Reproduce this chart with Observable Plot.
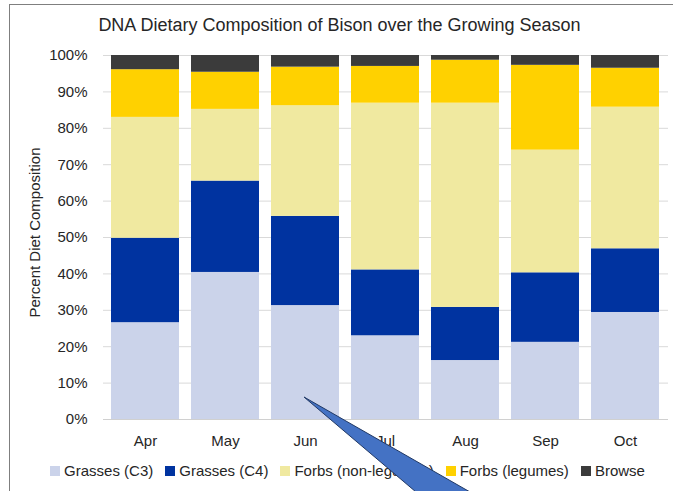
<!DOCTYPE html>
<html><head><meta charset="utf-8">
<script src="https://cdn.jsdelivr.net/npm/d3@7"></script>
<script src="https://cdn.jsdelivr.net/npm/@observablehq/plot@0.6"></script>
<style>
body{margin:0;background:#fff;font-family:"Liberation Sans",Arial,sans-serif;}
#wrap{position:relative;width:673px;height:491px;overflow:hidden;background:#fff;}
#frame{position:absolute;left:9px;top:4px;width:700px;height:600px;border-left:1.5px solid #7f7f7f;border-top:1.5px solid #7f7f7f;box-sizing:border-box;}
#title{position:absolute;left:3px;width:673px;top:15px;text-align:center;font-size:18px;color:#262626;white-space:nowrap;}
#chart{position:absolute;left:0;top:0;}
#legend{position:absolute;left:11px;width:673px;top:462px;display:flex;justify-content:center;gap:12px;font-size:15px;color:#262626;white-space:nowrap;}
#legend .item{display:flex;align-items:center;gap:4px;}
#legend .sw{width:10px;height:10px;display:inline-block;}
#arrow{position:absolute;left:0;top:0;}
</style></head>
<body><div id="wrap">
<div id="frame"></div>
<div id="title">DNA Dietary Composition of Bison over the Growing Season</div>
<div id="chart"></div>
<div id="legend"></div>
<svg id="arrow" width="673" height="491"><polygon points="304,397 449,520 519,520" fill="#4472C4" stroke="#203864" stroke-width="1"/></svg>
</div>
<script>
const months = ["Apr","May","Jun","Jul","Aug","Sep","Oct"];
const series = ["Grasses (C3)","Grasses (C4)","Forbs (non-legumes)","Forbs (legumes)","Browse"];
const colors = ["#CBD3EA","#0033A0","#F0E9A0","#FFD100","#3B3B3B"];
const grassesC3 = [26.6,40.4,31.3,23.0,16.2,21.2,29.4];
const grassesC4 = [23.2,25.1,24.5,18.1,14.6,19.1,17.5];
const forbsNonLegumes = [33.2,19.7,30.4,45.8,56.1,33.7,38.9];
const forbsLegumes = [13.1,10.2,10.6,10.1,11.8,23.3,10.7];
const browse = [3.9,4.6,3.2,3.0,1.3,2.7,3.5];
const yTicks = [0,10,20,30,40,50,60,70,80,90,100];

const values = [grassesC3, grassesC4, forbsNonLegumes, forbsLegumes, browse];
const data = series.flatMap((s,i)=>months.map((m,j)=>({month:m, series:s, value:values[i][j]})));

const chart = Plot.plot({
  width:673, height:455,
  marginTop:55, marginBottom:36, marginLeft:103, marginRight:5,
  style:{fontFamily:"'Liberation Sans',Arial,sans-serif", fontSize:"15px", color:"#262626", background:"transparent"},
  x:{domain:months, paddingInner:0.145, paddingOuter:0.075, label:null},
  y:{domain:[0,100], label:null},
  color:{domain:series, range:colors},
  marks:[
    Plot.gridY(yTicks,{stroke:"#d9d9d9", strokeOpacity:1}),
    Plot.barY(data,{x:"month", y:"value", fill:"series"}),
    Plot.ruleY([0],{stroke:"#d0d0d0"}),
    Plot.axisY({ticks:yTicks, tickFormat:d=>d+"%", tickSize:0, tickPadding:16, label:null, fontSize:15}),
    Plot.axisX({tickSize:0, tickPadding:16, label:null, fontSize:15}),
    Plot.text(["Percent Diet Composition"],{frameAnchor:"left", textAnchor:"middle", rotate:-90, dx:-68, dy:-5, fontSize:15, fill:"#262626"})
  ]
});
document.getElementById("chart").appendChild(chart);

const legend = document.getElementById("legend");
series.forEach((s,i)=>{
  const it = document.createElement("div"); it.className="item";
  const sw = document.createElement("span"); sw.className="sw"; sw.style.background=colors[i];
  const tx = document.createElement("span"); tx.textContent=s;
  it.appendChild(sw); it.appendChild(tx); legend.appendChild(it);
});
</script>
</body></html>
